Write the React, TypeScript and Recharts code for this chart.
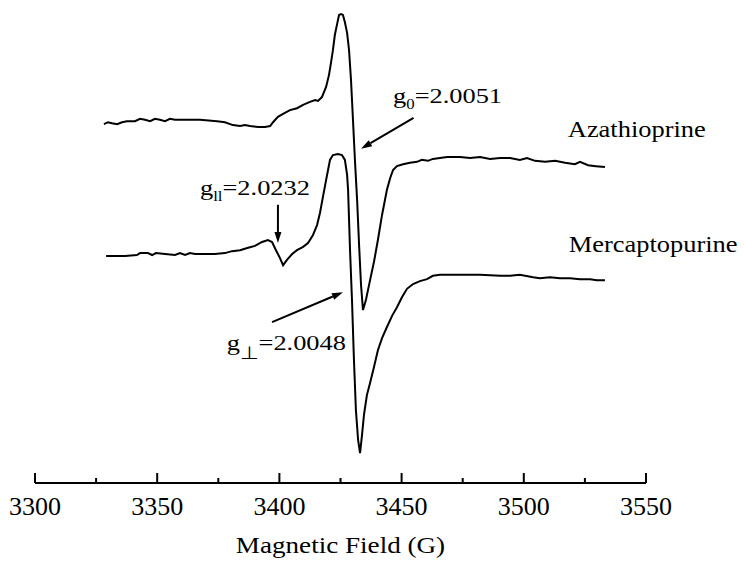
import { LineChart, Line, XAxis, YAxis, ReferenceDot, ReferenceLine } from 'recharts';

// field (G) and signal (a.u., 0-100 on the hidden y axis)
const AZA_FIELD = [
  3328.2, 3329.9, 3331.5, 3333.6, 3335.6, 3337.6, 3340.9, 3343.0, 3345.0, 3347.1,
  3349.1, 3351.1, 3353.2, 3355.2, 3357.3, 3359.3, 3367.5, 3374.5, 3377.7, 3381.0,
  3383.9, 3385.9, 3388.0, 3391.2, 3394.1, 3396.2, 3397.4, 3399.4, 3401.5, 3404.3,
  3407.2, 3409.7, 3412.5, 3414.6, 3415.8, 3417.4, 3419.1, 3420.3, 3421.1, 3421.9,
  3422.7, 3423.6, 3424.4, 3425.2, 3426.0, 3426.8, 3427.7, 3428.5, 3429.3, 3430.1,
  3430.9, 3431.8, 3432.6, 3433.4, 3434.2, 3435.4, 3437.1, 3438.7, 3440.3, 3442.0,
  3444.0, 3445.3, 3446.5, 3448.1, 3450.6, 3453.4, 3456.3, 3458.3, 3460.8, 3462.8,
  3465.7, 3468.6, 3473.9, 3478.0, 3482.1, 3486.2, 3490.3, 3494.4, 3498.4, 3501.3,
  3504.6, 3508.7, 3512.8, 3516.9, 3520.9, 3523.0, 3526.3, 3529.5, 3533.2,
];
const AZA_SIGNAL = [
  74.3, 74.7, 74.5, 74.3, 74.7, 74.9, 74.9, 75.4, 75.2, 74.9,
  75.4, 75.2, 74.9, 75.4, 75.2, 75.2, 75.2, 74.9, 74.7, 74.1,
  73.9, 74.1, 73.9, 73.7, 73.7, 73.9, 74.7, 75.8, 76.4, 77.2,
  77.6, 78.3, 78.9, 79.3, 79.1, 79.9, 82.0, 84.5, 87.0, 89.6,
  92.8, 95.0, 96.9, 97.1, 96.9, 95.4, 93.2, 89.6, 83.4, 75.2,
  66.9, 58.6, 49.3, 41.0, 35.8, 37.9, 42.0, 45.8, 50.3, 55.5,
  60.7, 63.1, 64.8, 65.6, 66.0, 66.3, 66.5, 66.9, 66.7, 67.1,
  67.3, 67.5, 67.5, 67.3, 67.5, 67.1, 67.3, 67.3, 66.9, 67.3,
  66.7, 66.5, 66.7, 66.3, 66.0, 66.5, 65.8, 65.6, 65.4,
];

const MERC_FIELD = [
  3329.1, 3332.7, 3336.8, 3341.7, 3343.0, 3346.2, 3347.9, 3349.5, 3353.2, 3357.3,
  3359.3, 3361.4, 3363.4, 3365.5, 3369.6, 3373.6, 3377.7, 3380.6, 3383.9, 3387.2,
  3390.0, 3392.9, 3395.3, 3397.0, 3398.6, 3400.2, 3401.5, 3403.1, 3405.2, 3407.2,
  3409.7, 3411.7, 3413.7, 3415.4, 3416.6, 3417.8, 3419.1, 3419.9, 3420.7, 3421.9,
  3424.0, 3425.6, 3426.8, 3427.7, 3428.1, 3428.9, 3429.7, 3430.5, 3431.3, 3432.2,
  3433.0, 3433.8, 3434.6, 3435.8, 3437.1, 3438.7, 3440.3, 3442.0, 3444.0, 3446.1,
  3448.1, 3450.2, 3452.2, 3454.7, 3457.5, 3460.4, 3462.8, 3465.7, 3469.8, 3476.8,
  3482.1, 3490.3, 3494.4, 3498.4, 3503.8, 3506.6, 3510.7, 3514.8, 3518.9, 3523.0,
  3527.1, 3529.9, 3533.2,
];
const MERC_SIGNAL = [
  47.0, 47.0, 47.0, 47.2, 47.6, 47.6, 47.2, 47.6, 47.4, 47.2,
  47.6, 47.2, 47.6, 47.4, 47.4, 47.4, 47.6, 48.0, 48.2, 48.7,
  49.1, 49.9, 50.3, 49.9, 48.2, 46.6, 45.1, 46.2, 47.4, 48.2,
  48.9, 49.7, 51.3, 53.4, 55.9, 59.2, 62.7, 64.8, 66.9, 67.9,
  68.1, 67.9, 66.9, 63.8, 60.7, 48.2, 37.9, 25.5, 15.1, 8.9,
  6.2, 9.9, 14.1, 18.2, 20.7, 24.0, 27.5, 30.0, 32.3, 34.6,
  36.4, 38.5, 40.2, 41.2, 41.8, 42.2, 42.9, 43.1, 43.1, 43.1,
  43.1, 42.9, 42.9, 43.1, 42.6, 42.4, 42.6, 42.4, 42.4, 42.2,
  42.2, 42.0, 42.0,
];

const MAJOR_TICKS = [3300, 3350, 3400, 3450, 3500, 3550];
const MINOR_TICKS = [3325, 3375, 3425, 3475, 3525];
const ALL_TICKS = [...MAJOR_TICKS, ...MINOR_TICKS].sort((a, b) => a - b);

const azaData = AZA_FIELD.map((field, i) => ({ field, signal: AZA_SIGNAL[i] }));
const mercData = MERC_FIELD.map((field, i) => ({ field, signal: MERC_SIGNAL[i] }));

const FONT = '"Liberation Serif", "Times New Roman", serif';

const AxisTick = ({ x, y, payload }: any) => {
  const major = MAJOR_TICKS.includes(payload.value);
  return (
    <g>
      <line x1={x} y1={y} x2={x} y2={y - (major ? 10 : 5)} stroke="#000" strokeWidth={2} />
      {major && (
        <text x={x} y={y + 32} textAnchor="middle" style={{ fontFamily: FONT }} fontSize={26} fill="#000">
          {payload.value}
        </text>
      )}
    </g>
  );
};

const AxisTitle = ({ viewBox }: any) => (
  <text
    transform={`translate(${viewBox.x + viewBox.width / 2},${viewBox.y + 70}) scale(1.13,1)`}
    textAnchor="middle"
    style={{ fontFamily: FONT }}
    fontSize={24}
    fill="#000"
  >
    Magnetic Field (G)
  </text>
);

const Arrow = (props: any) => {
  const { x1, y1, x2, y2 } = props;
  const ang = Math.atan2(y2 - y1, x2 - x1);
  const len = 11;
  const w = 3.5;
  const bx = x2 - len * Math.cos(ang);
  const by = y2 - len * Math.sin(ang);
  const px = -Math.sin(ang) * w;
  const py = Math.cos(ang) * w;
  return (
    <g>
      <line x1={x1} y1={y1} x2={bx} y2={by} stroke="#000" strokeWidth={2} />
      <path d={`M${x2},${y2} L${bx + px},${by + py} L${bx - px},${by - py} Z`} fill="#000" />
    </g>
  );
};

// annotation text: main g, subscript, rest
const GLabel = (sub: string, rest: string, subSize = 14, subDy = 6) => (props: any) => (
  <text
    transform={`translate(${props.cx},${props.cy}) scale(1.2,1)`}
    style={{ fontFamily: FONT }}
    fontSize={22}
    fill="#000"
  >
    <tspan>g</tspan>
    <tspan fontSize={subSize} dy={subDy}>{sub}</tspan>
    <tspan dy={-subDy}>{rest}</tspan>
  </text>
);

const NameLabel = (name: string) => (props: any) => (
  <text
    transform={`translate(${props.cx},${props.cy}) scale(1.15,1)`}
    style={{ fontFamily: FONT }}
    fontSize={23}
    fill="#000"
  >
    {name}
  </text>
);

export default function App() {
  return (
    <div style={{ position: 'absolute', left: 0, top: 0, width: 746, height: 561, background: '#fff' }}>
      <LineChart width={746} height={561} margin={{ top: 0, right: 100, left: 35, bottom: 0 }}>
        <XAxis
          dataKey="field"
          type="number"
          domain={[3300, 3550]}
          ticks={ALL_TICKS}
          interval={0}
          allowDataOverflow
          height={78}
          tickSize={0}
          tickMargin={0}
          tickLine={false}
          axisLine={{ stroke: '#000', strokeWidth: 2 }}
          tick={<AxisTick />}
          label={<AxisTitle />}
        />
        <YAxis type="number" domain={[0, 100]} hide width={0} />
        <Line
          data={azaData}
          dataKey="signal"
          type="linear"
          stroke="#000"
          strokeWidth={2}
          dot={false}
          isAnimationActive={false}
        />
        <Line
          data={mercData}
          dataKey="signal"
          type="linear"
          stroke="#000"
          strokeWidth={2}
          dot={false}
          isAnimationActive={false}
        />
        <ReferenceLine segment={[{ x: 3454.9, y: 75.6 }, { x: 3433.4, y: 69.2 }]} shape={Arrow} />
        <ReferenceLine segment={[{ x: 3399.4, y: 57.6 }, { x: 3399.4, y: 49.7 }]} shape={Arrow} />
        <ReferenceLine segment={[{ x: 3397.0, y: 33.3 }, { x: 3426.0, y: 39.5 }]} shape={Arrow} />
        <ReferenceDot x={3446.5} y={78.7} r={0} shape={GLabel('0', '=2.0051')} />
        <ReferenceDot x={3367.5} y={59.6} r={0} shape={GLabel('ll', '=2.0232')} />
        <ReferenceDot x={3378.5} y={27.5} r={0} shape={GLabel('\u22A5', '=2.0048', 18, 9)} />
        <ReferenceDot x={3518.0} y={71.6} r={0} shape={NameLabel('Azathioprine')} />
        <ReferenceDot x={3518.4} y={47.8} r={0} shape={NameLabel('Mercaptopurine')} />
      </LineChart>
    </div>
  );
}
